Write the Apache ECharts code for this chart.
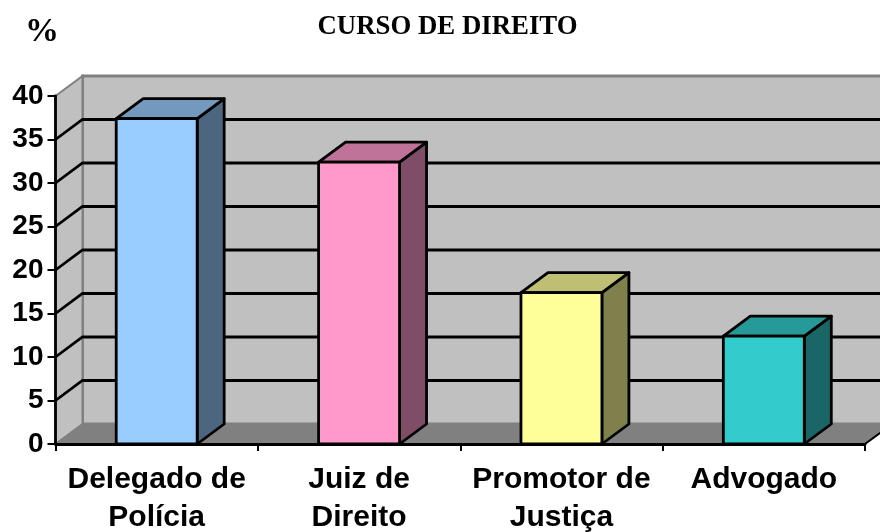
<!DOCTYPE html>
<html><head><meta charset="utf-8">
<style>html,body{margin:0;padding:0;background:#fff}#c{width:880px;height:532px}</style>
<script src="https://cdn.jsdelivr.net/npm/echarts@6/dist/echarts.min.js"></script>
</head><body><div id="c"></div>
<script>
const chartTitle = 'CURSO DE DIREITO';
const unitLabel = '%';
const categories = ['Delegado de\nPolícia', 'Juiz de\nDireito', 'Promotor de\nJustiça', 'Advogado'];
const values = [37.4, 32.4, 17.4, 12.4];
const yTicks = [0, 5, 10, 15, 20, 25, 30, 35, 40];
const frontColors = ['#99CCFF', '#FF99CC', '#FFFF99', '#33CCCC'];
const topColors = ['#7399BF', '#BF7399', '#BFBF73', '#269999'];
const sideColors = ['#4D6680', '#804D66', '#80804D', '#1A6666'];
const DX = 27, DY = -20;
const chart = echarts.init(document.getElementById('c'), null, {renderer: 'canvas'});

function renderWalls(params, api) {
  const cs = params.coordSys;
  const y = api.coord([0, api.value(0)])[1];
  const children = [];
  const L = cs.x, R = cs.x + cs.width, T = cs.y, B = cs.y + cs.height;
  if (params.dataIndex === 0) {
    children.push({type: 'polygon', shape: {points: [[L + DX, T + DY], [R + DX, T + DY], [R + DX, B + DY], [L + DX, B + DY]]},
      style: {fill: '#C0C0C0', stroke: '#808080', lineWidth: 3}});
    children.push({type: 'polygon', shape: {points: [[L, T], [L + DX, T + DY], [L + DX, B + DY], [L, B]]},
      style: {fill: '#C0C0C0', stroke: '#808080', lineWidth: 2}});
    children.push({type: 'polygon', shape: {points: [[L, B], [L + DX, B + DY], [R + DX, B + DY], [R, B]]},
      style: {fill: '#808080', stroke: '#808080', lineWidth: 1}});
    children.push({type: 'line', shape: {x1: R, y1: B, x2: R + DX, y2: B + DY}, style: {stroke: '#000', lineWidth: 2}});
  } else if (api.value(0) < 40) {
    children.push({type: 'polyline', shape: {points: [[L, y], [L + DX, y + DY], [R + DX, y + DY]]},
      style: {fill: 'none', stroke: '#000', lineWidth: 2.8}});
  }
  return {type: 'group', children};
}
function renderBar(params, api) {
  const i = params.dataIndex;
  const p = api.coord([i, api.value(0)]);
  const b = api.coord([i, 0]);
  const w = api.size([1, 0])[0] * 0.4;
  const l = p[0] - w / 2, r = p[0] + w / 2, t = p[1], bot = b[1];
  const st = c => ({fill: c, stroke: '#000', lineWidth: 2.8, lineJoin: 'round'});
  return {type: 'group', children: [
    {type: 'polygon', shape: {points: [[r, t], [r + DX, t + DY], [r + DX, bot + DY], [r, bot]]}, style: st(sideColors[i])},
    {type: 'polygon', shape: {points: [[l, t], [l + DX, t + DY], [r + DX, t + DY], [r, t]]}, style: st(topColors[i])},
    {type: 'polygon', shape: {points: [[l, t], [r, t], [r, bot], [l, bot]]}, style: st(frontColors[i])}
  ]};
}
const axisStyle = {show: true, lineStyle: {color: '#000', width: 2.8}};
chart.setOption({
  animation: false,
  backgroundColor: '#fff',
  title: [
    {text: chartTitle, left: 442.5, top: 9, textAlign: 'center', textStyle: {fontFamily: 'Liberation Serif', fontWeight: 'bold', fontSize: 26.8, color: '#000'}},
    {text: unitLabel, left: 20, top: 10, textStyle: {fontFamily: 'Liberation Serif', fontWeight: 'bold', fontSize: 34, color: '#000'}}
  ],
  grid: {left: 55.5, top: 96, width: 809.5, height: 348, containLabel: false, outerBoundsMode: 'none'},
  xAxis: {type: 'category', data: categories, z: 3,
    axisLine: axisStyle, axisTick: {show: true, alignWithLabel: false, length: 7, lineStyle: {color: '#000', width: 2}},
    axisLabel: {interval: 0, margin: 17, lineHeight: 38, color: '#000', fontFamily: 'Liberation Sans', fontWeight: 'bold', fontSize: 30},
    splitLine: {show: false}},
  yAxis: {type: 'value', min: 0, max: 40, interval: 5, z: 3,
    axisLine: axisStyle, axisTick: {show: true, length: 8, lineStyle: {color: '#000', width: 2}},
    axisLabel: {margin: 12, padding: [5, 0, 0, 0], color: '#000', fontFamily: 'Liberation Sans', fontWeight: 'bold', fontSize: 28},
    splitLine: {show: false}},
  series: [
    {type: 'custom', name: 'walls', coordinateSystem: 'cartesian2d', clip: false, z: 1, silent: true,
      encode: {y: 0}, data: yTicks.map(v => [v]), renderItem: renderWalls},
    {type: 'custom', name: 'bars', coordinateSystem: 'cartesian2d', clip: false, z: 4,
      encode: {y: 0}, data: values.map(v => [v]), renderItem: renderBar}
  ]
});
</script></body></html>
